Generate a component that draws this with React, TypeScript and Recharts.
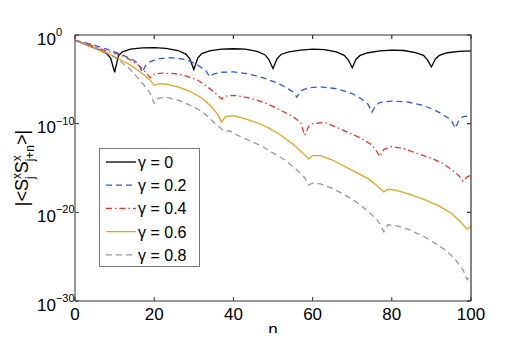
import React from 'react';
import { LineChart, Line, XAxis, YAxis } from 'recharts';

// log10 of |<S^x_j S^x_j+n>|
const nG0 = [0, 2, 4, 6, 8, 9, 10, 11, 12, 14, 17, 20, 23, 26, 28, 29, 30, 31, 32, 34, 37, 40, 43, 46, 48, 49, 50, 51, 52, 54, 57, 60, 63, 66, 68, 69, 70, 71, 72, 74, 77, 80, 83, 86, 88, 89, 90, 91, 92, 94, 97, 100];
const eG0 = [-0.6, -0.95, -1.3, -1.65, -2.1, -2.6, -4.2, -2.3, -1.9, -1.6, -1.45, -1.42, -1.5, -1.75, -2.15, -2.7, -3.9, -2.6, -2.1, -1.8, -1.6, -1.55, -1.6, -1.85, -2.25, -2.8, -3.8, -2.7, -2.2, -1.9, -1.7, -1.6, -1.65, -1.9, -2.3, -2.8, -3.7, -2.7, -2.3, -2.0, -1.8, -1.7, -1.75, -2.0, -2.3, -2.8, -3.6, -2.7, -2.3, -2.0, -1.85, -1.8];

const nG2 = [0, 2, 4, 6, 8, 10, 12, 14, 16, 17, 18, 19, 21, 24, 27, 29, 31, 33, 34, 35, 37, 40, 44, 48, 51, 53, 55, 56, 57, 59, 62, 66, 70, 72, 74, 75, 76, 77, 80, 84, 88, 91, 93, 95, 96, 97, 98, 100];
const eG2 = [-0.6, -0.8, -1.05, -1.3, -1.6, -1.9, -2.25, -2.65, -3.2, -4.2, -3.3, -3.0, -2.7, -2.55, -2.7, -2.95, -3.4, -4.0, -4.7, -4.4, -4.2, -4.15, -4.4, -4.9, -5.4, -5.85, -6.4, -7.0, -6.3, -5.95, -5.85, -6.05, -6.6, -7.1, -7.8, -8.7, -7.9, -7.6, -7.45, -7.55, -7.95, -8.5, -9.0, -9.6, -10.5, -9.6, -9.2, -9.1];

const nG4 = [0, 2, 4, 6, 8, 10, 12, 14, 16, 17, 18, 19, 20, 22, 25, 28, 31, 33, 35, 36, 37, 38, 40, 43, 46, 49, 52, 55, 57, 58, 59, 60, 63, 66, 69, 72, 75, 76, 77, 78, 80, 83, 86, 90, 93, 96, 97, 98, 99, 100];
const eG4 = [-0.6, -0.85, -1.15, -1.5, -1.8, -2.05, -2.35, -2.8, -3.4, -3.8, -4.3, -4.8, -4.4, -4.3, -4.35, -4.6, -5.1, -5.7, -6.4, -6.8, -7.2, -6.9, -6.8, -7.0, -7.35, -7.85, -8.5, -9.2, -9.9, -11.3, -10.3, -10.0, -9.85, -10.4, -11.0, -11.6, -12.4, -13.0, -13.7, -12.9, -12.6, -12.8, -13.3, -13.9, -14.5, -15.5, -15.9, -16.5, -16.0, -15.8];

const nG6 = [0, 2, 4, 6, 8, 10, 12, 14, 16, 18, 19, 20, 21, 23, 26, 29, 32, 34, 36, 37, 38, 40, 43, 46, 49, 52, 55, 57, 58, 59, 60, 62, 65, 68, 71, 74, 76, 77, 78, 79, 81, 84, 88, 92, 95, 97, 98, 99, 100];
const eG6 = [-0.6, -0.95, -1.3, -1.7, -2.05, -2.45, -2.9, -3.4, -4.0, -4.7, -5.1, -5.7, -5.5, -5.55, -5.85, -6.35, -7.1, -7.9, -8.9, -9.8, -9.2, -9.1, -9.45, -9.9, -10.5, -11.3, -12.3, -13.1, -13.5, -14.0, -13.6, -13.6, -14.1, -14.8, -15.5, -16.2, -16.9, -17.3, -17.7, -17.4, -17.5, -17.9, -18.5, -19.3, -20.1, -20.9, -21.4, -21.9, -21.6];

const nG8 = [0, 2, 4, 6, 8, 10, 12, 14, 16, 18, 19, 20, 21, 23, 26, 29, 32, 35, 37, 38, 39, 41, 44, 47, 50, 53, 56, 58, 59, 60, 62, 65, 68, 71, 74, 76, 77, 78, 79, 81, 84, 88, 91, 94, 96, 98, 99, 100];
const eG8 = [-0.6, -0.95, -1.3, -1.6, -2.0, -2.5, -3.15, -3.9, -4.9, -5.95, -6.6, -7.7, -7.15, -7.0, -7.35, -7.9, -8.6, -9.8, -10.6, -10.9, -10.8, -11.3, -11.9, -12.5, -13.3, -14.1, -15.2, -16.1, -16.9, -16.7, -16.8, -17.3, -18.0, -18.8, -19.9, -20.7, -21.3, -22.2, -21.4, -21.5, -21.9, -22.7, -23.5, -24.4, -25.3, -26.5, -27.6, -27.1];

const xTicks = [0, 20, 40, 60, 80, 100];
const yTicks = [1e-30, 1e-20, 1e-10, 1];

const toData = (ns: number[], es: number[]) => ns.map((n, i) => ({ n, v: Math.pow(10, es[i]) }));

const series = [
  { name: 'γ = 0', data: toData(nG0, eG0), color: '#000000', dash: undefined },
  { name: 'γ = 0.2', data: toData(nG2, eG2), color: '#2457ff', dash: '6 4' },
  { name: 'γ = 0.4', data: toData(nG4, eG4), color: '#ff2b1c', dash: '6 3 1.5 3' },
  { name: 'γ = 0.6', data: toData(nG6, eG6), color: '#eea11c', dash: undefined },
  { name: 'γ = 0.8', data: toData(nG8, eG8), color: '#999999', dash: '6 4' },
];

const W = 521;
const H = 341;
const PLOT = { left: 75, top: 35, right: 471, bottom: 301 };
const FONT = '"Liberation Sans", Arial, Helvetica, sans-serif';
const AXIS = '#333333';

const XTick = ({ x, y, payload }: any) => (
  <text x={x} y={y + 23} textAnchor="middle" fontSize={17} fontFamily={FONT} fill="#000">
    {payload.value}
  </text>
);

const YTick = ({ x, y, payload }: any) => {
  const e = Math.round(Math.log10(payload.value));
  return (
    <text x={x - 42} y={y + 9.5} fontSize={17} fontFamily={FONT} fill="#000">
      10
      <tspan dy={-8.5} fontSize={11}>{e === 0 ? '0' : '\u2212' + Math.abs(e)}</tspan>
    </text>
  );
};

const YLabel = ({ viewBox }: any) => {
  const cy = viewBox.y + viewBox.height / 2;
  return (
    <text
      transform={`translate(28, ${cy}) rotate(-90)`}
      textAnchor="middle"
      fontSize={18}
      fontFamily={FONT}
      fill="#000"
    >
      |&lt;S
      <tspan dy={-7.5} fontSize={12}>x</tspan>
      <tspan dx={-6} dy={13} fontSize={12}>j</tspan>
      <tspan dx={3} dy={-5.5}>S</tspan>
      <tspan dy={-7.5} fontSize={12}>x</tspan>
      <tspan dx={-6} dy={13} fontSize={12}>j+n</tspan>
      <tspan dy={-5.5}>&gt;|</tspan>
    </text>
  );
};

// overlay: top/right edges of the axes box with inward ticks, plus the legend
function Overlay() {
  const pw = PLOT.right - PLOT.left;
  const ph = PLOT.bottom - PLOT.top;
  const lx = 99;
  const ly = 148;
  return (
    <svg width={W} height={H} style={{ position: 'absolute', left: 0, top: 0 }}>
      <path
        d={`M${PLOT.left},${PLOT.top} H${PLOT.right} V${PLOT.bottom}`}
        fill="none"
        stroke={AXIS}
        strokeWidth={1.2}
      />
      {xTicks.map((t) => {
        const x = PLOT.left + (pw * t) / 100;
        return <line key={'t' + t} x1={x} x2={x} y1={PLOT.top} y2={PLOT.top + 4} stroke={AXIS} strokeWidth={1.2} />;
      })}
      {yTicks.map((t) => {
        const y = PLOT.top + (ph * -Math.log10(t)) / 30;
        return <line key={'r' + t} x1={PLOT.right - 4} x2={PLOT.right} y1={y} y2={y} stroke={AXIS} strokeWidth={1.2} />;
      })}
      <rect x={lx + 0.5} y={ly + 0.5} width={100} height={118} fill="#fff" stroke="#777" />
      {series.map((s, i) => {
        const cy = ly + 14 + i * 23.2;
        return (
          <g key={s.name}>
            <line x1={lx + 7} x2={lx + 37} y1={cy} y2={cy} stroke={s.color} strokeWidth={1.3} strokeDasharray={s.dash} />
            <text x={lx + 39} y={cy + 6} fontSize={16} fontFamily={FONT} fill="#000">{s.name}</text>
          </g>
        );
      })}
    </svg>
  );
}

export default function App() {
  return (
    <div style={{ position: 'relative', margin: -8, width: W, height: H, background: '#fff' }}>
      <LineChart
        width={W}
        height={H}
        margin={{ top: PLOT.top, right: W - PLOT.right, left: 0, bottom: 0 }}
      >
        <XAxis
          dataKey="n"
          type="number"
          domain={[0, 100]}
          ticks={xTicks}
          height={H - PLOT.bottom}
          tickSize={-4}
          tickMargin={0}
          tick={<XTick />}
          stroke={AXIS}
          label={{ value: 'n', position: 'insideBottom', offset: 6, fontSize: 17, fontFamily: FONT, fill: '#000' }}
        />
        <YAxis
          type="number"
          scale="log"
          domain={[1e-30, 1]}
          ticks={yTicks}
          allowDataOverflow
          width={PLOT.left}
          tickSize={-4}
          tickMargin={0}
          tick={<YTick />}
          stroke={AXIS}
          label={<YLabel />}
        />
        {series.map((s) => (
          <Line
            key={s.name}
            data={s.data}
            dataKey="v"
            type="linear"
            stroke={s.color}
            strokeWidth={1.3}
            strokeDasharray={s.dash}
            dot={false}
            activeDot={false}
            isAnimationActive={false}
          />
        ))}
      </LineChart>
      <Overlay />
    </div>
  );
}
